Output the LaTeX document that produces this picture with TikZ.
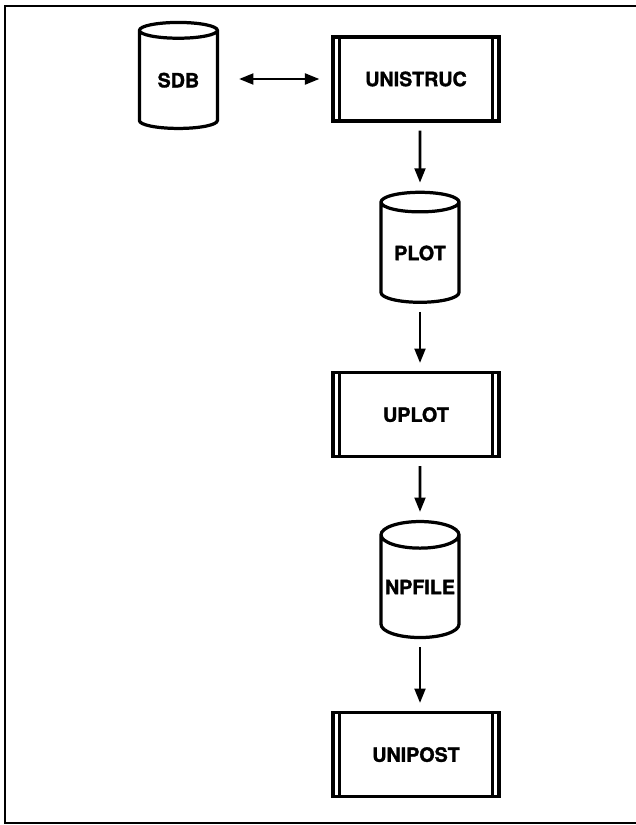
\documentclass[tikz,border=0pt]{standalone}
\usepackage{fontspec}
\setmainfont{TeX Gyre Heros}[BoldFeatures={FakeBold=1.5}]
\usepackage{tikz}
\usetikzlibrary{arrows.meta,shapes.geometric}

\begin{document}
\begin{tikzpicture}[font=\fontsize{14}{16}\selectfont\bfseries,
  prog/.style={draw, line width=2.3pt, minimum width=4.15cm, minimum height=2.1cm,
    path picture={
      \draw[line width=2pt] ([xshift=0.17cm]path picture bounding box.north west) -- ([xshift=0.17cm]path picture bounding box.south west);
      \draw[line width=2pt] ([xshift=-0.17cm]path picture bounding box.north east) -- ([xshift=-0.17cm]path picture bounding box.south east);}},
  store/.style={draw, line width=2.3pt, cylinder, shape border rotate=90, aspect=0.38,
    minimum width=1.95cm, minimum height=2.75cm, inner sep=0pt},
  flow/.style={line width=1.8pt, -{Triangle[length=0.36cm,width=0.27cm]}}]
\useasboundingbox (0,0) rectangle (15.9,20.625);
% frame (right side cut off)
\draw[line width=2pt] (15.9,20.475) -- (0.125,20.475) -- (0.125,0.05) -- (15.9,0.05);
% files and programs
\node[store, minimum height=2.65cm] (sdb) at (4.46,18.62) {SDB};
\node[prog] (unistruc) at (10.4,18.65) {UNISTRUC};
\node[store] (plot) at (10.5,14.3) {PLOT};
\node[prog] (uplot) at (10.4,10.26) {UPLOT};
\node[store, minimum height=2.9cm] (npfile) at (10.5,5.95) {NPFILE};
\node[prog] (unipost) at (10.4,1.76) {UNIPOST};
% data flow
\draw[flow, {Triangle[length=0.36cm,width=0.27cm]}-{Triangle[length=0.36cm,width=0.27cm]}, shorten <=0.5cm, shorten >=0.3cm] (sdb.east |- unistruc.west) -- (unistruc.west);
\draw[flow, shorten <=0.2cm, shorten >=0.2cm] (unistruc.south -| 10.5,0) -- (plot.north);
\draw[flow, shorten <=0.2cm, shorten >=0.2cm] (plot.south) -- (plot.south |- uplot.north);
\draw[flow, shorten <=0.2cm, shorten >=0.2cm] (uplot.south -| 10.5,0) -- (npfile.north);
\draw[flow, shorten <=0.2cm, shorten >=0.2cm] (npfile.south) -- (npfile.south |- unipost.north);
\end{tikzpicture}
\end{document}
